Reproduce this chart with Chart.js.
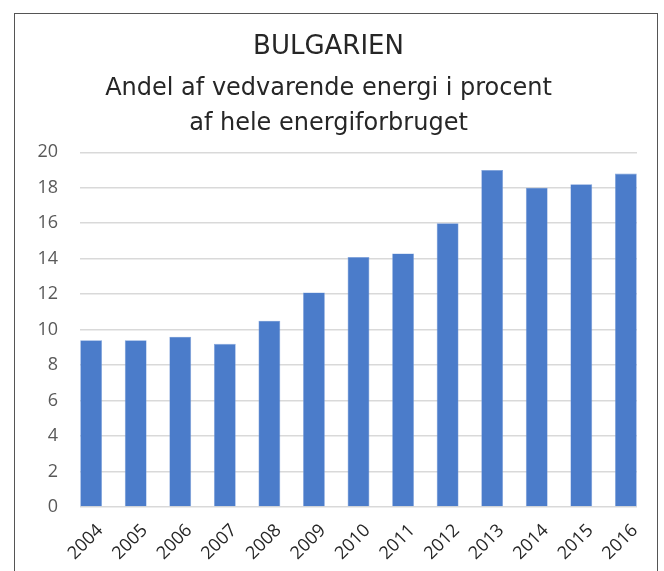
<!DOCTYPE html>
<html lang="da">
<head>
  <meta charset="UTF-8" />
  <title>Bulgarien - vedvarende energi</title>
  <script src="https://cdn.jsdelivr.net/npm/chart.js"></script>
  <style>
    html, body {
      margin: 0;
      padding: 0;
      background: #fff;
      overflow: hidden;
    }
    #frame {
      position: absolute;
      left: 14px;
      top: 13px;
      width: 642px;
      height: 640px;
      border: 1.5px solid #555;
    }
    #wrap {
      position: absolute;
      left: 0;
      top: 0;
      width: 664px;
      height: 571px;
    }
  </style>
</head>
<body>
  <div id="frame"></div>
  <div id="wrap"><canvas id="chart"></canvas></div>

  <script>
    // data
    const years = ['2004', '2005', '2006', '2007', '2008', '2009', '2010',
                   '2011', '2012', '2013', '2014', '2015', '2016'];
    const shares = [9.4, 9.4, 9.6, 9.2, 10.5, 12.1, 14.1, 14.3, 16.0, 19.0, 18.0, 18.2, 18.8];
    const yTicks = [0, 2, 4, 6, 8, 10, 12, 14, 16, 18, 20];

    const tickFont = { family: "'Open Sans', 'Liberation Sans', sans-serif", size: 18 };

    const ctx = document.getElementById('chart').getContext('2d');
    new Chart(ctx, {
      type: 'bar',
      data: {
        datasets: [{
          label: 'Andel',
          data: shares.map((v, i) => ({ x: i, y: v })),
          backgroundColor: '#4b7cca',
          borderColor: '#7fa2dc',
          borderWidth: 0.6,
          barPercentage: 0.49,
          categoryPercentage: 1
        }]
      },
      options: {
        responsive: true,
        maintainAspectRatio: false,
        animation: false,
        layout: { padding: { left: 20, right: 27, top: 0, bottom: 0 } },
        plugins: {
          legend: { display: false },
          tooltip: { enabled: false },
          title: {
            display: true,
            text: 'BULGARIEN',
            color: '#262626',
            font: { family: "'DejaVu Sans'", size: 26, weight: 'normal', lineHeight: 1.2 },
            padding: { top: 32, bottom: 8 }
          },
          subtitle: {
            display: true,
            text: ['Andel af vedvarende energi i procent', 'af hele energiforbruget'],
            color: '#262626',
            font: { family: "'DejaVu Sans'", size: 24, weight: 'normal', lineHeight: 1.46 },
            padding: { top: 0, bottom: 11 }
          }
        },
        scales: {
          x: {
            type: 'linear',
            min: -0.25,
            max: 12.25,
            offset: false,
            grid: { display: false },
            border: { display: false },
            ticks: {
              stepSize: 1,
              includeBounds: false,
              autoSkip: false,
              minRotation: 45,
              maxRotation: 45,
              padding: 5,
              labelOffset: 9,
              color: '#262626',
              font: tickFont,
              callback: (v) => Number.isInteger(v) ? years[v] : ''
            },
            afterFit: (scale) => { scale.height = 64; }
          },
          y: {
            min: 0,
            max: 20,
            afterBuildTicks: (scale) => { scale.ticks = yTicks.map(v => ({ value: v })); },
            grid: { color: '#d9d9d9', lineWidth: 1.5, drawTicks: false },
            border: { display: false },
            ticks: {
              padding: 22,
              color: '#595959',
              font: tickFont
            },
            afterFit: (scale) => { scale.width = 60; }
          }
        }
      }
    });
  </script>
</body>
</html>
